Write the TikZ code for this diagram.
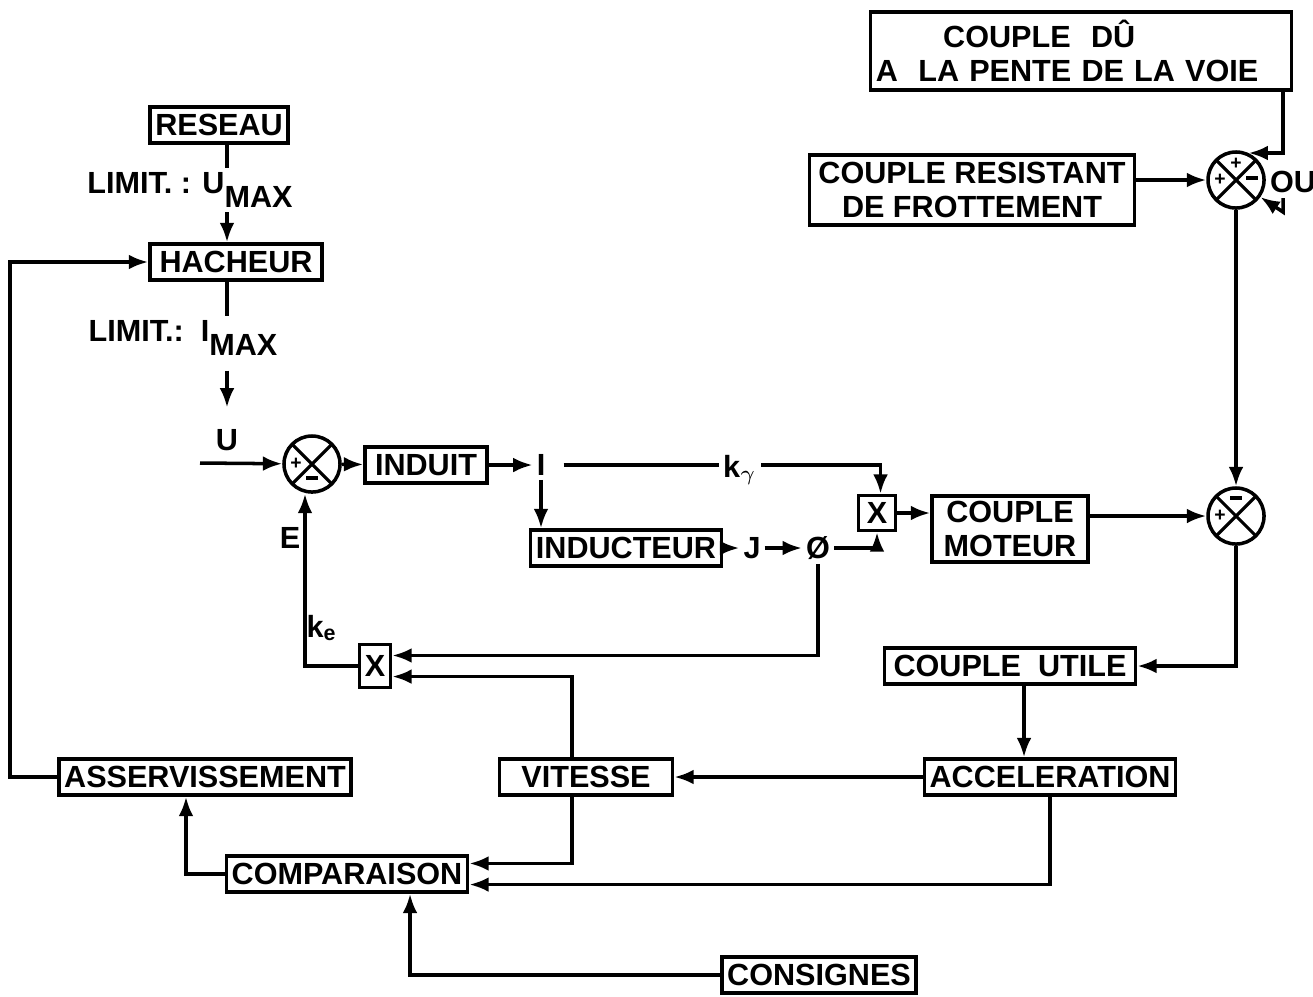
\documentclass[tikz,border=0pt]{standalone}
\usepackage{fontspec}
\setmainfont{Liberation Sans}
\usetikzlibrary{arrows.meta,positioning,calc}
\tikzset{
  blk/.style={draw,line width=1pt,inner sep=1.5pt,minimum height=0.36cm,font=\fontsize{8.7}{9.5}\selectfont\bfseries},
  lbl/.style={inner sep=1pt,font=\fontsize{8.7}{9.5}\selectfont\bfseries},
  sgn/.style={inner sep=0pt,font=\fontsize{5.5}{6}\selectfont\bfseries},
  sum/.style={draw,circle,line width=1pt,minimum size=0.56cm,inner sep=0pt,
    path picture={\draw[line width=0.9pt]
      (path picture bounding box.south west) -- (path picture bounding box.north east)
      (path picture bounding box.north west) -- (path picture bounding box.south east);}},
  wire/.style={line width=1pt},
  sig/.style={line width=1pt,-{Latex[length=5.5pt,width=4.2pt]}}
}
\newcommand{\lowsub}[1]{\raisebox{-0.9ex}{#1}}
\newcommand{\minussign}{\rule[0.35ex]{3.2pt}{1.1pt}}

\begin{document}
\begin{tikzpicture}[x=0.01cm,y=-0.01cm]
  \useasboundingbox (0,0) rectangle (1313,996);

  \node[blk,minimum width=1.38cm] (reseau) at (219,125) {RESEAU};
  \node[lbl] (limU) at (190,190) {LIMIT. : U\lowsub{MAX}};
  \node[blk,minimum width=1.72cm] (hacheur) at (236,262) {HACHEUR};
  \node[lbl] (limI) at (183,338) {LIMIT.:\ \ I\lowsub{MAX}};
  \node[lbl] (uin) at (227,440) {U};
  \coordinate (uend) at (200,463);

  \node[sum] (s1) at (312,464) {};
  \node[sgn] (s1p) at ([xshift=-0.16cm]s1.center) {+};
  \node[sgn] (s1m) at ([yshift=-0.16cm]s1.center) {\minussign};
  \node[blk,minimum width=1.22cm] (induit) at (426,465) {INDUIT};
  \node[lbl] (i) at (541,465) {I};
  \node[lbl] (kg) at (740,470) {k\textsubscript{$\gamma$}};
  \node[blk,minimum width=0.37cm,minimum height=0.35cm] (x1) at (877,513) {X};
  \node[blk,minimum width=1.87cm] (inducteur) at (626,548) {INDUCTEUR};
  \node[lbl] (j) at (752,548) {J};
  \node[lbl] (phi) at (818,548) {Ø};
  \node[blk,align=center,minimum width=1.56cm] (cmot) at (1010,529) {COUPLE\\MOTEUR};

  \node[blk,align=left,text width=4.1cm,minimum height=0.78cm] (cdu) at (1081,51)
    {\hspace{2.2em}COUPLE\ \ DÛ\\A\ \ LA PENTE DE LA VOIE};
  \node[blk,align=center,minimum width=3.25cm,minimum height=0.7cm] (cres) at (972,190)
    {COUPLE RESISTANT\\DE FROTTEMENT};
  \node[sum] (s2) at (1236,180) {};
  \node[sgn] (s2a) at ([yshift=0.16cm]s2.center) {+};
  \node[sgn] (s2b) at ([xshift=-0.16cm]s2.center) {+};
  \node[sgn] (s2c) at ([xshift=0.16cm]s2.center) {\minussign};
  \node[lbl] (ou) at (1293,182) {OU};
  \coordinate (tap) at (1283,150);
  \coordinate (ou1) at (1283,198);
  \coordinate (ou2) at (1283,212);

  \node[sum] (s3) at (1236,516) {};
  \node[sgn] (s3m) at ([yshift=0.16cm]s3.center) {\minussign};
  \node[sgn] (s3p) at ([xshift=-0.16cm]s3.center) {+};

  \node[blk,minimum width=2.51cm] (cutile) at (1010,666) {COUPLE\ \ UTILE};
  \node[blk,minimum width=2.44cm] (accel) at (1050,777) {ACCELERATION};
  \node[blk,minimum width=1.73cm] (vitesse) at (586,777) {VITESSE};
  \node[blk,minimum width=0.31cm,minimum height=0.43cm] (x2) at (375,666) {X};
  \node[lbl] (ke) at (322,628) {k\textsubscript{e}};
  \node[lbl] (e) at (290,538) {E};
  \node[blk,minimum width=2.90cm] (asserv) at (205,777) {ASSERVISSEMENT};
  \node[blk,minimum width=2.30cm] (compar) at (347,874) {COMPARAISON};
  \node[blk,minimum width=1.92cm] (consig) at (819,975) {CONSIGNES};
  \coordinate (ret) at (10,777);

  \draw[wire] (reseau.south -| uin) -- (limU.north -| uin);
  \draw[sig] (limU.south -| uin) -- (hacheur.north -| uin);
  \draw[wire] (hacheur.south -| uin) -- (limI.north -| uin);
  \draw[sig] ([yshift=-3pt]limI.south -| uin) -- ([yshift=5pt]uin.north);
  \draw[sig] (uend) -- (s1);
  \draw[sig] (s1) -- (induit);
  \draw[sig] (induit) -- (i);
  \draw[wire] ([xshift=4pt]i.east) -- (kg.west |- i);
  \draw[sig] (kg.east |- i) -| ([xshift=1pt]x1.north);
  \draw[sig] (i) -- (inducteur.north -| i);
  \draw[sig] (inducteur) -- (j);
  \draw[sig] (j) -- (phi);
  \draw[sig] (phi) -| (x1);
  \draw[sig] (x1) -- (x1 -| cmot.west);
  \draw[sig] (cmot.east |- s3) -- (s3);

  \draw[sig] (cdu.south -| tap) |- (s2.65);
  \draw[sig] (ou1) -- (ou2) -- (s2.-35);
  \draw[sig] (cres.east |- s2) -- (s2);
  \draw[sig] (s2) -- (s3);
  \draw[sig] (s3) |- (cutile);

  \draw[sig] ([xshift=0.14cm]cutile.south) -- ([xshift=0.14cm]cutile.south |- accel.north);
  \draw[sig] (accel) -- (vitesse);
  \draw[sig] ([xshift=-0.14cm]vitesse.north) |- ([yshift=-3pt]x2.east);
  \draw[sig] (phi) |- ([yshift=3pt]x2.east);
  \draw[sig] (x2) -| ([xshift=-0.07cm]s1.south);
  \draw[sig] ([xshift=-0.14cm]vitesse.south) |- ([yshift=3pt]compar.east);
  \draw[sig] (accel.south) |- ([yshift=-3pt]compar.east);
  \draw[sig] (compar) -| ([xshift=-0.19cm]asserv.south);
  \draw[sig] (asserv) -- (ret) |- (hacheur);
  \draw[sig] (consig) -| ([xshift=0.63cm]compar.south);
\end{tikzpicture}
\end{document}
